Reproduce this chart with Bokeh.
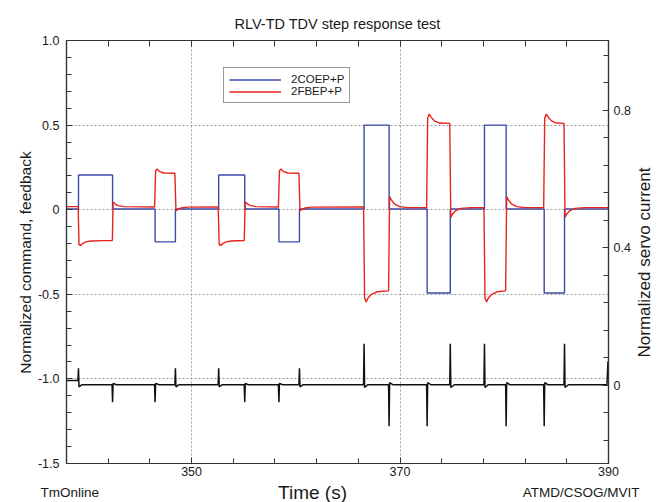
import math
from bokeh.plotting import figure
from bokeh.layouts import column, row
from bokeh.models import Range1d, LinearAxis, FixedTicker, CustomJSTickFormatter
from bokeh.core.properties import value
from bokeh.embed import file_html
from bokeh.resources import INLINE

# ---------------- data ----------------
title_text = "RLV-TD TDV step response test"
ylabel_left = "Normalized command, feedback"
ylabel_right = "Normalized servo current"
xlabel_text = "Time (s)"
footer_left = "TmOnline"
footer_right = "ATMD/CSOG/MVIT"
legend_cmd = "2COEP+P"
legend_fb = "2FBEP+P"

x_major = [350, 370, 390]
x_labels = ["350", "370", "390"]
x_minor = [338, 342, 346, 354, 358, 362, 366, 374, 378, 382, 386]
left_major = [-1.5, -1.0, -0.5, 0.0, 0.5, 1.0]
left_labels = ["-1.5", "-1.0", "-0.5", "0", "0.5", "1.0"]
left_minor = [-1.4, -1.3, -1.2, -1.1, -0.9, -0.8, -0.7, -0.6, -0.4, -0.3, -0.2, -0.1,
              0.1, 0.2, 0.3, 0.4, 0.6, 0.7, 0.8, 0.9]
right_major = [0.0, 0.4, 0.8]
right_labels = ["0", "0.4", "0.8"]
right_minor = [-0.16, -0.08, 0.08, 0.16, 0.24, 0.32, 0.48, 0.56, 0.64, 0.72, 0.88, 0.96]

# command (blue)
cmd_t = [338.0, 339.15, 339.15, 342.42, 342.42, 346.5, 346.5, 348.45, 348.45,
         352.6, 352.6, 355.1, 355.1, 358.38, 358.38, 360.35, 360.35,
         366.55, 366.55, 368.95, 368.95, 372.6, 372.6, 374.82, 374.82,
         378.1, 378.1, 380.18, 380.18, 383.83, 383.83, 385.78, 385.78, 390.0]
cmd_v = [0.004, 0.004, 0.205, 0.205, 0.004, 0.004, -0.19, -0.19, 0.004,
         0.004, 0.205, 0.205, 0.004, 0.004, -0.19, -0.19, 0.004,
         0.004, 0.5, 0.5, 0.004, 0.004, -0.492, -0.492, 0.004,
         0.004, 0.5, 0.5, 0.004, 0.004, -0.492, -0.492, 0.004, 0.004]

# feedback (red)
fb_t = [338.0, 339.12, 339.2, 339.35, 339.55, 339.85, 340.4, 341.5, 342.4,
        342.47, 342.65, 342.95, 343.5, 346.45,
        346.55, 346.7, 346.95, 347.35, 348.4,
        348.5, 348.7, 349.0, 349.6, 352.55,
        352.65, 352.8, 353.0, 353.3, 353.8, 355.05,
        355.15, 355.35, 355.65, 356.2, 358.33,
        358.43, 358.58, 358.83, 359.23, 360.3,
        360.4, 360.6, 360.9, 361.5, 366.5,
        366.6, 366.75, 366.95, 367.25, 367.8, 368.9,
        369.0, 369.15, 369.45, 369.95, 370.8, 372.55,
        372.65, 372.8, 373.0, 373.3, 373.8, 374.77,
        374.87, 375.05, 375.35, 375.85, 376.8, 378.05,
        378.15, 378.3, 378.5, 378.8, 379.3, 380.13,
        380.23, 380.38, 380.68, 381.2, 382.0, 383.78,
        383.88, 384.03, 384.23, 384.53, 385.03, 385.73,
        385.83, 386.0, 386.3, 386.8, 387.7, 390.0]
fb_v = [0.018, 0.018, -0.205, -0.212, -0.2, -0.19, -0.185, -0.183, -0.182,
        0.045, 0.035, 0.024, 0.018, 0.016,
        0.23, 0.24, 0.225, 0.217, 0.215,
        -0.005, 0.002, 0.01, 0.015, 0.016,
        -0.205, -0.212, -0.2, -0.19, -0.185, -0.182,
        0.045, 0.035, 0.024, 0.018, 0.016,
        0.23, 0.24, 0.225, 0.217, 0.215,
        -0.006, 0.002, 0.01, 0.015, 0.016,
        -0.52, -0.545, -0.52, -0.5, -0.485, -0.48,
        0.077, 0.06, 0.035, 0.018, 0.012, 0.012,
        0.54, 0.565, 0.545, 0.525, 0.512, 0.51,
        -0.045, -0.025, -0.005, 0.008, 0.012, 0.012,
        -0.52, -0.545, -0.52, -0.5, -0.485, -0.48,
        0.077, 0.06, 0.035, 0.018, 0.012, 0.012,
        0.54, 0.565, 0.545, 0.525, 0.512, 0.51,
        -0.045, -0.025, -0.005, 0.008, 0.012, 0.012]

# servo current (black, right axis)
cur_t = [338.0, 339.1, 339.15, 339.2, 339.5,
         342.37, 342.42, 342.47, 342.8,
         346.45, 346.5, 346.55, 346.9,
         348.4, 348.45, 348.5, 348.8,
         352.55, 352.6, 352.65, 352.95,
         355.05, 355.1, 355.15, 355.45,
         358.33, 358.38, 358.43, 358.75,
         360.3, 360.35, 360.4, 360.7,
         366.5, 366.55, 366.6, 366.9,
         368.9, 368.95, 369.0, 369.3,
         372.55, 372.6, 372.65, 372.95,
         374.77, 374.82, 374.87, 375.2,
         378.05, 378.1, 378.15, 378.45,
         380.13, 380.18, 380.23, 380.55,
         383.78, 383.83, 383.88, 384.2,
         385.73, 385.78, 385.83, 386.15,
         389.85, 389.95]
cur_v = [0.014, 0.014, 0.05, -0.004, 0.002,
         0.002, -0.049, 0.006, 0.002,
         0.002, -0.049, 0.006, 0.002,
         0.002, 0.05, -0.004, 0.002,
         0.002, 0.05, -0.004, 0.002,
         0.002, -0.049, 0.006, 0.002,
         0.002, -0.049, 0.006, 0.002,
         0.002, 0.05, -0.004, 0.002,
         0.002, 0.121, -0.006, 0.002,
         0.002, -0.119, 0.008, 0.002,
         0.002, -0.119, 0.008, 0.002,
         0.002, 0.121, -0.006, 0.002,
         0.002, 0.121, -0.006, 0.002,
         0.002, -0.119, 0.008, 0.002,
         0.002, -0.119, 0.008, 0.002,
         0.002, 0.121, -0.006, 0.002,
         0.002, 0.07]

# ---------------- layout geometry (page pixels) ----------------
PAGE_W, PAGE_H = 660, 502
FOOT_Y = 481          # footer strip: page y 481..502
LEFT_W = 34           # left label strip: page x 0..34
RIGHT_X = 633         # right label strip: page x 633..660
FRAME_L, FRAME_R, FRAME_T, FRAME_B = 64, 608, 40, 463
MAIN_W = RIGHT_X - LEFT_W
MAIN_H = FOOT_Y

FONT = "Liberation Sans"
TXT = "#1a1a1a"
AX = "#333333"


def strip(x0, x1, y0, y1):
    """A bare canvas whose data coordinates are page pixels (y downward)."""
    f = figure(width=x1 - x0, height=y1 - y0, x_range=Range1d(x0, x1), y_range=Range1d(y1, y0),
               output_backend="svg", toolbar_location=None, title_location=None,
               x_axis_location=None, y_axis_location=None,
               min_border=0, min_border_left=0, min_border_right=0,
               min_border_top=0, min_border_bottom=0)
    f.outline_line_color = None
    f.background_fill_color = "white"
    f.border_fill_color = "white"
    f.grid.visible = False
    try:
        f.frame_align = False
    except Exception:
        pass
    return f


def put_text(f, txt, x, y, size, align="center", baseline="middle", angle=0.0):
    f.text(x=[x], y=[y], text=[txt], text_font=value(FONT), text_font_size=size,
           text_color=TXT, text_align=align, text_baseline=baseline, angle=angle)


left = strip(0, LEFT_W, 0, FOOT_Y)
put_text(left, ylabel_left, 25, 262, "15.5px", angle=math.pi / 2)

right = strip(RIGHT_X, PAGE_W, 0, FOOT_Y)
put_text(right, ylabel_right, 644, 262, "17px", angle=math.pi / 2)

foot = strip(0, PAGE_W, FOOT_Y, PAGE_H)
put_text(foot, footer_left, 40, 492, "13.5px", align="left")
put_text(foot, xlabel_text, 312, 491.5, "19px")
put_text(foot, footer_right, 639, 492, "13.5px", align="right")

# main plot
p = figure(width=MAIN_W, height=MAIN_H, x_range=Range1d(338.0, 390.0), y_range=Range1d(-1.5, 1.0),
           output_backend="svg", toolbar_location=None,
           title=title_text, title_location="above",
           min_border_left=FRAME_L - LEFT_W, min_border_right=RIGHT_X - FRAME_R,
           min_border_top=FRAME_T, min_border_bottom=FOOT_Y - FRAME_B,
           x_axis_location=None, y_axis_location=None)
try:
    p.frame_align = False
except Exception:
    pass
p.title.align = "center"
p.title.text_font = FONT
p.title.text_font_size = "14.5px"
p.title.text_font_style = "normal"
p.title.text_color = TXT
p.title.standoff = 18
p.extra_y_ranges = {"servo": Range1d(-0.227, 1.003)}
p.background_fill_color = "white"
p.border_fill_color = "white"
p.outline_line_color = AX
p.outline_line_width = 1.2


def fmt(tick_values, tick_texts):
    return CustomJSTickFormatter(args=dict(tv=tick_values, tt=tick_texts), code="""
        for (let i = 0; i < tv.length; i++) {
            if (Math.abs(tv[i] - tick) < 1e-6) return tt[i];
        }
        return "";
    """)


def style(ax):
    ax.axis_line_color = AX
    ax.axis_line_width = 1.2
    ax.major_tick_in = 6
    ax.major_tick_out = 0
    ax.minor_tick_in = 5
    ax.minor_tick_out = 0
    ax.major_tick_line_color = AX
    ax.minor_tick_line_color = AX
    ax.major_label_text_font = FONT
    ax.major_label_text_font_size = "12.5px"
    ax.major_label_text_color = TXT


xb = LinearAxis(ticker=FixedTicker(ticks=x_major, minor_ticks=x_minor),
                formatter=fmt(x_major, x_labels))
style(xb)
xb.major_label_standoff = 3
p.add_layout(xb, "below")

# top axis: ticks only (all drawn as minor ticks, so no labels)
xt = LinearAxis(ticker=FixedTicker(ticks=[], minor_ticks=x_minor + x_major))
style(xt)
xt.minor_tick_in = 6
xt.major_label_standoff = 0
p.add_layout(xt, "above")

yl = LinearAxis(ticker=FixedTicker(ticks=left_major, minor_ticks=left_minor),
                formatter=fmt(left_major, left_labels))
style(yl)
yl.major_label_standoff = 7
p.add_layout(yl, "left")

yr = LinearAxis(y_range_name="servo",
                ticker=FixedTicker(ticks=right_major, minor_ticks=right_minor),
                formatter=fmt(right_major, right_labels))
style(yr)
yr.major_label_standoff = 5
p.add_layout(yr, "right")

# grid
p.xgrid.ticker = FixedTicker(ticks=x_major)
p.ygrid.ticker = FixedTicker(ticks=left_major)
for g in (p.xgrid, p.ygrid):
    g.grid_line_color = "#9a9a9a"
    g.grid_line_dash = "2 2"
    g.grid_line_width = 1

# data lines
p.line(cmd_t, cmd_v, line_color="#3a4aa8", line_width=1.4, legend_label=legend_cmd)
p.line(fb_t, fb_v, line_color="#e8231c", line_width=1.4, legend_label=legend_fb)
p.line(cur_t, cur_v, line_color="#111111", line_width=1.5, y_range_name="servo")

# legend
lg = p.legend[0]
lg.location = (157, (FRAME_B - FRAME_T) - 27 - 36)
lg.padding = 5
lg.margin = 0
lg.spacing = 0
lg.glyph_width = 52
lg.glyph_height = 11
lg.label_height = 11
lg.label_standoff = 10
lg.label_text_font = FONT
lg.label_text_font_size = "11.5px"
lg.label_text_color = TXT
lg.border_line_color = AX
lg.border_line_width = 1.2
lg.background_fill_color = "white"
lg.background_fill_alpha = 1.0

root = column(row(left, p, right, spacing=0), foot, spacing=0)
open("out.html", "w").write(file_html(root, INLINE))
